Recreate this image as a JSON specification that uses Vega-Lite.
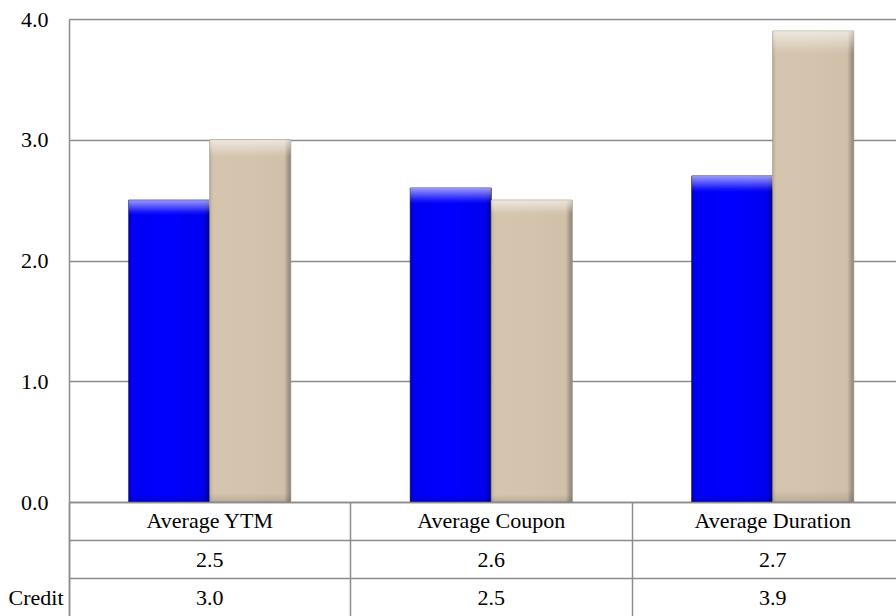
{
  "$schema": "https://vega.github.io/schema/vega-lite/v6.json",
  "padding": {"left": 8, "top": 8, "right": 0, "bottom": 0},
  "background": "white",
  "datasets": {
    "bars": [
      {"metric": "Average YTM", "series": "Series 1", "value": 2.5},
      {"metric": "Average YTM", "series": "Credit", "value": 3.0},
      {"metric": "Average Coupon", "series": "Series 1", "value": 2.6},
      {"metric": "Average Coupon", "series": "Credit", "value": 2.5},
      {"metric": "Average Duration", "series": "Series 1", "value": 2.7},
      {"metric": "Average Duration", "series": "Credit", "value": 3.9}
    ],
    "metrics": [
      {"metric": "Average YTM"},
      {"metric": "Average Coupon"},
      {"metric": "Average Duration"}
    ]
  },
  "config": {
    "view": {"stroke": null},
    "font": "Liberation Serif",
    "axis": {"labelFont": "Liberation Serif", "labelColor": "#000000"}
  },
  "spacing": 0,
  "bounds": "flush",
  "vconcat": [
    {
      "width": 844.5,
      "height": 483,
      "data": {"name": "bars"},
      "encoding": {
        "x": {
          "field": "metric", "type": "nominal",
          "sort": ["Average YTM", "Average Coupon", "Average Duration"],
          "scale": {"paddingInner": 0.4245, "paddingOuter": 0.2123},
          "axis": null
        },
        "xOffset": {"field": "series", "type": "nominal", "sort": ["Series 1", "Credit"]},
        "y": {
          "field": "value", "type": "quantitative",
          "scale": {"domain": [0, 4], "nice": false},
          "axis": {
            "values": [0, 1, 2, 3, 4], "format": ".1f", "title": null,
            "grid": true, "gridColor": "#8c8c8c", "gridWidth": 1.3,
            "ticks": false, "domainColor": "#8c8c8c", "domainWidth": 1.5,
            "labelFontSize": 22, "labelPadding": 21
          }
        }
      },
      "layer": [
        {
          "transform": [{"filter": "datum.series === 'Series 1'"}],
          "mark": {
            "type": "bar",
            "stroke": "#00007a", "strokeWidth": 0.8,
            "color": {
              "gradient": "linear", "x1": 0, "y1": 0, "x2": 1, "y2": 0,
              "stops": [
                {"offset": 0, "color": "#0000b8"},
                {"offset": 0.05, "color": "#0000f5"},
                {"offset": 0.5, "color": "#0000ff"},
                {"offset": 0.93, "color": "#0000f0"},
                {"offset": 0.97, "color": "#0000b0"},
                {"offset": 1, "color": "#000070"}
              ]
            }
          }
        },
        {
          "transform": [{"filter": "datum.series === 'Credit'"}],
          "mark": {
            "type": "bar",
            "stroke": "#9a8e7e", "strokeWidth": 0.8,
            "color": {
              "gradient": "linear", "x1": 0, "y1": 0, "x2": 1, "y2": 0,
              "stops": [
                {"offset": 0, "color": "#c4b49f"},
                {"offset": 0.05, "color": "#d5c5af"},
                {"offset": 0.5, "color": "#d4c4ae"},
                {"offset": 0.92, "color": "#d0c0aa"},
                {"offset": 0.96, "color": "#ab9e8c"},
                {"offset": 1, "color": "#8f8373"}
              ]
            }
          }
        },
        {
          "mark": {
            "type": "bar",
            "color": {
              "gradient": "linear", "x1": 0, "y1": 0, "x2": 0, "y2": 1,
              "stops": [
                {"offset": 0, "color": "rgba(255,255,255,0.6)"},
                {"offset": 0.02, "color": "rgba(255,255,255,0.35)"},
                {"offset": 0.04, "color": "rgba(255,255,255,0.08)"},
                {"offset": 0.05, "color": "rgba(255,255,255,0)"},
                {"offset": 0.975, "color": "rgba(0,0,0,0)"},
                {"offset": 1, "color": "rgba(0,0,0,0.12)"}
              ]
            }
          }
        }
      ]
    },
    {
      "width": 844.5,
      "height": 115,
      "encoding": {
        "x": {
          "field": "metric", "type": "nominal",
          "sort": ["Average YTM", "Average Coupon", "Average Duration"],
          "scale": {"type": "band", "padding": 0},
          "bandPosition": 0.5,
          "axis": {
            "orient": "top", "title": null, "labels": false, "ticks": false,
            "domain": false, "grid": true, "bandPosition": 0,
            "gridColor": "#8c8c8c", "gridWidth": 1.5
          }
        },
        "y": {
          "type": "nominal",
          "scale": {"type": "band", "domain": ["hdr", "Series 1", "Credit"], "padding": 0},
          "bandPosition": 0.5,
          "axis": {
            "title": null, "ticks": false, "grid": true, "bandPosition": 0,
            "gridColor": "#8c8c8c", "gridWidth": 1.5,
            "domainColor": "#8c8c8c", "domainWidth": 1.5,
            "labelExpr": "datum.value === 'Credit' ? 'Credit' : ''",
            "labelFontSize": 22, "labelPadding": 6
          }
        }
      },
      "layer": [
        {
          "data": {"name": "metrics"},
          "mark": {"type": "text", "fontSize": 22, "font": "Liberation Serif", "color": "#000000"},
          "encoding": {
            "y": {"datum": "hdr", "type": "nominal", "bandPosition": 0.5},
            "text": {"field": "metric"}
          }
        },
        {
          "data": {"name": "bars"},
          "mark": {"type": "text", "fontSize": 22, "font": "Liberation Serif", "color": "#000000"},
          "encoding": {
            "y": {"field": "series", "type": "nominal", "bandPosition": 0.5},
            "text": {"field": "value", "format": ".1f"}
          }
        }
      ]
    }
  ]
}
